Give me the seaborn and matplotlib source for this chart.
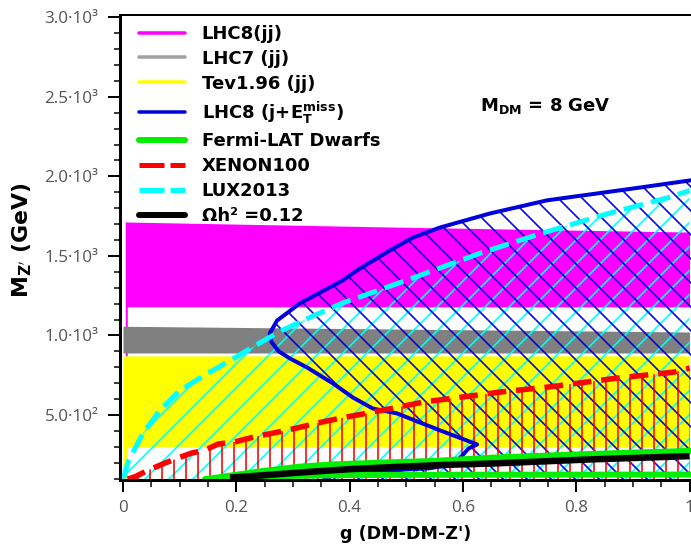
import matplotlib
matplotlib.use("Agg")
import matplotlib.pyplot as plt
from matplotlib.lines import Line2D
from matplotlib.ticker import FixedLocator, FixedFormatter, MultipleLocator
import seaborn as sns

# ---- exclusion limits in the (g, M_Z') plane for M_DM = 8 GeV ----
# dijet resonance searches: bands in M_Z' [GeV]
lhc8_jj_g = [0.004, 0.0075, 0.0076, 0.5, 1.0]
lhc8_jj_lo = [870, 870, 1180, 1180, 1180]
lhc8_jj_hi = [1715, 1713, 1713, 1680, 1650]

lhc7_jj_g = [0.0, 0.5, 1.0]
lhc7_jj_lo = [890, 890, 890]
lhc7_jj_hi = [1058, 1040, 1022]

tev_jj_g = [0.0, 0.0075, 0.0076, 1.0]
tev_jj_lo = [95, 95, 300, 300]
tev_jj_hi = [872, 872, 872, 872]

# mono-jet (j + E_T^miss) contour, traced from the upper right around the nose
mono_g = [1.01, 1.0, 0.913, 0.748, 0.648, 0.56, 0.512, 0.471, 0.413, 0.388,
          0.312, 0.272, 0.259, 0.262, 0.275, 0.295, 0.325, 0.371, 0.406,
          0.441, 0.484, 0.515, 0.56, 0.607, 0.625, 0.61, 0.60, 0.59, 0.575,
          0.54, 0.46, 0.40, 0.37, 0.355]
mono_m = [1980, 1974, 1930, 1849, 1767, 1679, 1616, 1534, 1409, 1346,
          1201, 1094, 1013, 960, 900, 855, 799, 698, 610,
          541, 510, 466, 403, 340, 315, 290, 250, 215, 185,
          165, 151, 137, 120, 95]

# Fermi-LAT dwarf spheroidals: closed contour (upper edge, then lower edge back)
fermi_g = [0.145, 0.2, 0.25, 0.31, 0.37, 0.45, 0.55, 0.65, 0.83, 1.0, 1.01,
           1.01, 1.0, 0.6, 0.4, 0.25, 0.145]
fermi_m = [96, 125, 150, 175, 190, 200, 212, 232, 256, 275, 276,
           126, 126, 125, 123, 115, 96]

# direct detection limits
xenon_g = [0.008, 0.021, 0.045, 0.074, 0.097, 0.121, 0.145, 0.168, 0.198,
           0.233, 0.268, 0.304, 0.343, 0.393, 0.442, 0.531, 0.667, 0.75,
           0.874, 0.973, 1.0]
xenon_m = [98, 112, 154, 198, 230, 261, 280, 318, 332,
           364, 389, 416, 450, 487, 519, 582, 645, 676,
           733, 770, 795]

lux_g = [0.0, 0.01, 0.035, 0.065, 0.10, 0.149, 0.195, 0.235, 0.28, 0.34,
         0.39, 0.44, 0.503, 0.632, 0.738, 0.857, 0.963, 1.0]
lux_m = [100, 214, 384, 529, 654, 761, 855, 940, 1031, 1130,
         1207, 1270, 1350, 1519, 1641, 1767, 1867, 1911]

# relic density line
relic_g = [0.189, 0.25, 0.316, 0.4, 0.489, 0.57, 0.656, 0.824, 1.0]
relic_m = [107, 122, 140, 160, 175, 187, 196, 221, 242]

ytick_vals = [500, 1000, 1500, 2000, 2500, 3000]
ytick_labels = ["5.0·10²", "1.0·10³", "1.5·10³", "2.0·10³", "2.5·10³", "3.0·10³"]
xtick_vals = [0.0, 0.2, 0.4, 0.6, 0.8, 1.0]
xtick_labels = ["0", "0.2", "0.4", "0.6", "0.8", "1"]

legend_labels = ["LHC8(jj)", "LHC7 (jj)", "Tev1.96 (jj)",
                 r"LHC8 (j+E$_\mathbf{T}^\mathbf{miss}$)", "Fermi-LAT Dwarfs",
                 "XENON100", "LUX2013", "Ωh² =0.12"]

MAGENTA = "#ff00ff"
GREY = "#808080"
GREY_LEG = "#a0a0a0"
YELLOW = "#ffff00"
BLUE = "#0000dd"
GREEN = "#00ee00"
RED = "#ff0000"
CYAN = "#00ffff"
BOLD_FONT = "DejaVu Sans"

sns.set_theme(style="ticks")
plt.rcParams["font.family"] = ["Open Sans", "DejaVu Sans"]
plt.rcParams["mathtext.fontset"] = "dejavusans"
plt.rcParams["text.color"] = "black"
plt.rcParams["hatch.linewidth"] = 1.6

DPI = 72
fig = plt.figure(figsize=(691 / DPI, 549 / DPI), dpi=DPI)
L, R, T, B = 120.5, 691.0, 14.7, 479.5
ax = fig.add_axes([L / 691, 1 - B / 549, (R - L) / 691, (B - T) / 549])
ax.set_xlim(-0.0044, 1.0026)
ax.set_ylim(95, 3016)

# solid dijet bands
ax.fill_between(lhc8_jj_g, lhc8_jj_lo, lhc8_jj_hi, color=MAGENTA, lw=0, zorder=1)
ax.fill_between(lhc7_jj_g, lhc7_jj_lo, lhc7_jj_hi, color=GREY, lw=0, zorder=1)
ax.fill_between(tev_jj_g, tev_jj_lo, tev_jj_hi, color=YELLOW, lw=0, zorder=1)

# hatched exclusion regions
ax.fill_between(lux_g, 95, lux_m, facecolor="none", edgecolor=CYAN,
                hatch="/", lw=0, zorder=2)
ax.fill(mono_g + [1.01], mono_m + [95], facecolor="none", edgecolor=BLUE,
        hatch="\\", lw=0, zorder=2.1)
ax.fill_between(xenon_g, 95, xenon_m, facecolor="none", edgecolor=RED,
                hatch="|", lw=0, zorder=2.2)

# contour and limit lines
sns.lineplot(x=mono_g, y=mono_m, ax=ax, color=BLUE, lw=4, sort=False,
             estimator=None, legend=False, zorder=3)
sns.lineplot(x=fermi_g, y=fermi_m, ax=ax, color=GREEN, lw=6, sort=False,
             estimator=None, legend=False, zorder=3.5)
sns.lineplot(x=xenon_g, y=xenon_m, ax=ax, color=RED, lw=5.5, sort=False,
             estimator=None, legend=False, zorder=4, linestyle=(0, (3.4, 1.8)))
sns.lineplot(x=lux_g, y=lux_m, ax=ax, color=CYAN, lw=5, sort=False,
             estimator=None, legend=False, zorder=4.5, linestyle=(0, (4, 1.6)))
sns.lineplot(x=relic_g, y=relic_m, ax=ax, color="black", lw=6.5, sort=False,
             estimator=None, legend=False, zorder=5, solid_capstyle="butt")

# axes styling
for side in ["left", "bottom"]:
    ax.spines[side].set_linewidth(3)
ax.spines["top"].set_linewidth(2)
ax.spines["right"].set_visible(False)
for sp in ax.spines.values():
    sp.set_color("black")
    sp.set_zorder(10)

ax.xaxis.set_major_locator(FixedLocator(xtick_vals))
ax.xaxis.set_major_formatter(FixedFormatter(xtick_labels))
ax.xaxis.set_minor_locator(MultipleLocator(0.05))
ax.yaxis.set_major_locator(FixedLocator(ytick_vals))
ax.yaxis.set_major_formatter(FixedFormatter(ytick_labels))
ax.yaxis.set_minor_locator(MultipleLocator(100))
ax.tick_params(which="major", direction="out", length=12, width=2,
               color="black", labelsize=17, labelcolor="#555555", pad=8)
ax.tick_params(axis="y", which="major", pad=10)
ax.tick_params(which="minor", direction="out", length=6.5, width=1.5,
               color="black")
ax.tick_params(top=False, right=False)

ax.set_xlabel("g (DM-DM-Z')", fontsize=17.5, fontweight="bold",
              family=BOLD_FONT, color="black")
ax.set_ylabel(r"M$_\mathbf{Z'}$ (GeV)", fontsize=22, fontweight="bold",
              family=BOLD_FONT, color="black")
ax.xaxis.set_label_coords(0.5, -0.098)
ax.yaxis.set_label_coords(-0.152, 0.515)

ax.text(0.744, 0.8036, r"M$_\mathbf{DM}$ = 8 GeV", transform=ax.transAxes,
        ha="center", va="center", fontsize=18, fontweight="bold",
        family=BOLD_FONT, color="black")

handles = [
    Line2D([], [], color=MAGENTA, lw=3.5),
    Line2D([], [], color=GREY_LEG, lw=3.5),
    Line2D([], [], color=YELLOW, lw=3.5),
    Line2D([], [], color=BLUE, lw=3.5),
    Line2D([], [], color=GREEN, lw=6),
    Line2D([], [], color=RED, lw=5, linestyle=(0, (5, 1.2))),
    Line2D([], [], color=CYAN, lw=5, linestyle=(0, (5, 1.2))),
    Line2D([], [], color="black", lw=6),
]
leg = ax.legend(handles, legend_labels, loc="upper left",
                bbox_to_anchor=(0.032, 0.978), frameon=False, borderpad=0,
                borderaxespad=0, handlelength=2.56, handletextpad=0.94,
                labelspacing=0.38,
                prop={"weight": "bold", "size": 18, "family": BOLD_FONT})
for txt in leg.get_texts():
    txt.set_color("black")
leg.set_zorder(20)

fig.savefig("out.png", dpi=DPI)
